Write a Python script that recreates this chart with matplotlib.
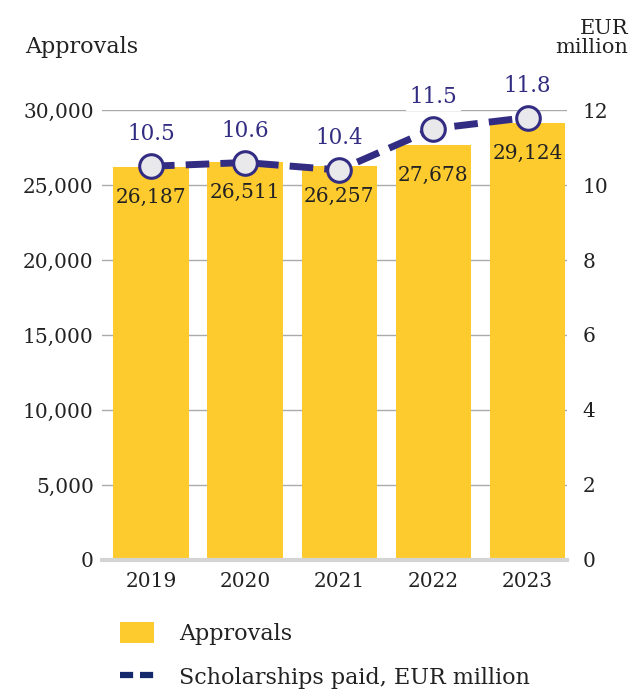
import matplotlib
matplotlib.use("Agg")
import matplotlib.pyplot as plt
from matplotlib.patches import Patch
from matplotlib.lines import Line2D

years = ["2019", "2020", "2021", "2022", "2023"]
approvals = [26187, 26511, 26257, 27678, 29124]
scholarships = [10.5, 10.6, 10.4, 11.5, 11.8]
left_ticks = [0, 5000, 10000, 15000, 20000, 25000, 30000]
right_ticks = [0, 2, 4, 6, 8, 10, 12]

BAR = "#fecb2f"
LINE = "#322d82"
LEGEND_LINE = "#13296b"
TEXT = "#222222"

plt.rcParams["font.family"] = ["DejaVu Serif"]

fig = plt.figure(figsize=(6.31, 6.91), dpi=100)
ax = fig.add_axes([0.1617, 0.1896, 0.737, 0.6512])
ax2 = ax.twinx()

x = list(range(len(years)))
bars = ax.bar(x, approvals, width=0.8, color=BAR, zorder=2)
ax.set_xlim(-0.52, 4.42)
ax.set_ylim(0, 30000)
ax.set_yticks(left_ticks)
ax.set_yticklabels([f"{v:,}" for v in left_ticks])
ax.set_xticks(x)
ax.set_xticklabels(years)
ax.grid(axis="y", color="#aaaaaa", linewidth=1, zorder=0)
ax.set_axisbelow(True)
for s in ax.spines.values():
    s.set_visible(False)
ax.axhline(0, color="#d4d4d4", linewidth=3, zorder=3, clip_on=False)
ax.tick_params(axis="both", length=0, labelsize=14.5, colors=TEXT)
ax.tick_params(axis="y", pad=6)
ax.tick_params(axis="x", pad=9)

for xi, v in zip(x, approvals):
    ax.annotate(f"{v:,}", (xi, v), xytext=(0, -15), textcoords="offset points",
                ha="center", va="top", fontsize=14.5, color=TEXT, zorder=4)

ax2.set_ylim(0, 12)
ax2.set_yticks(right_ticks)
for s in ax2.spines.values():
    s.set_visible(False)
ax2.tick_params(axis="y", length=0, labelsize=14.5, colors=TEXT, pad=11)
ax2.plot(x, scholarships, color=LINE, linewidth=5, dashes=(3.4, 1.6),
         marker="o", markersize=17, markerfacecolor="#e9e9ec",
         markeredgecolor=LINE, markeredgewidth=2.2, clip_on=False, zorder=5)
for xi, v in zip(x, scholarships):
    ax2.annotate(f"{v}", (xi, v), xytext=(0, 15), textcoords="offset points",
                 ha="center", va="bottom", fontsize=15.5, color=LINE,
                 bbox=dict(boxstyle="square,pad=0.15", fc="white", ec="none"),
                 zorder=6)

fig.text(25 / 631, 1 - 47 / 691, "Approvals", fontsize=16, color=TEXT,
         va="center", ha="left")
fig.text(628 / 631, 1 - 38 / 691, "EUR\nmillion", fontsize=15, color=TEXT,
         va="center", ha="right", multialignment="right", linespacing=0.95)

handles = [Patch(facecolor=BAR, edgecolor="none"),
           Line2D([0], [0], color=LEGEND_LINE, linewidth=4.5, dashes=(2.1, 1.1))]
fig.legend(handles, ["Approvals", "Scholarships paid, EUR million"],
           loc="upper left", bbox_to_anchor=(120 / 631, 1 - 622 / 691),
           borderaxespad=0, borderpad=0,
           frameon=False, fontsize=16, handlelength=1.55, handleheight=1.05,
           handletextpad=1.1, labelspacing=0.95, labelcolor=TEXT)

fig.savefig("out.png", dpi=100)
